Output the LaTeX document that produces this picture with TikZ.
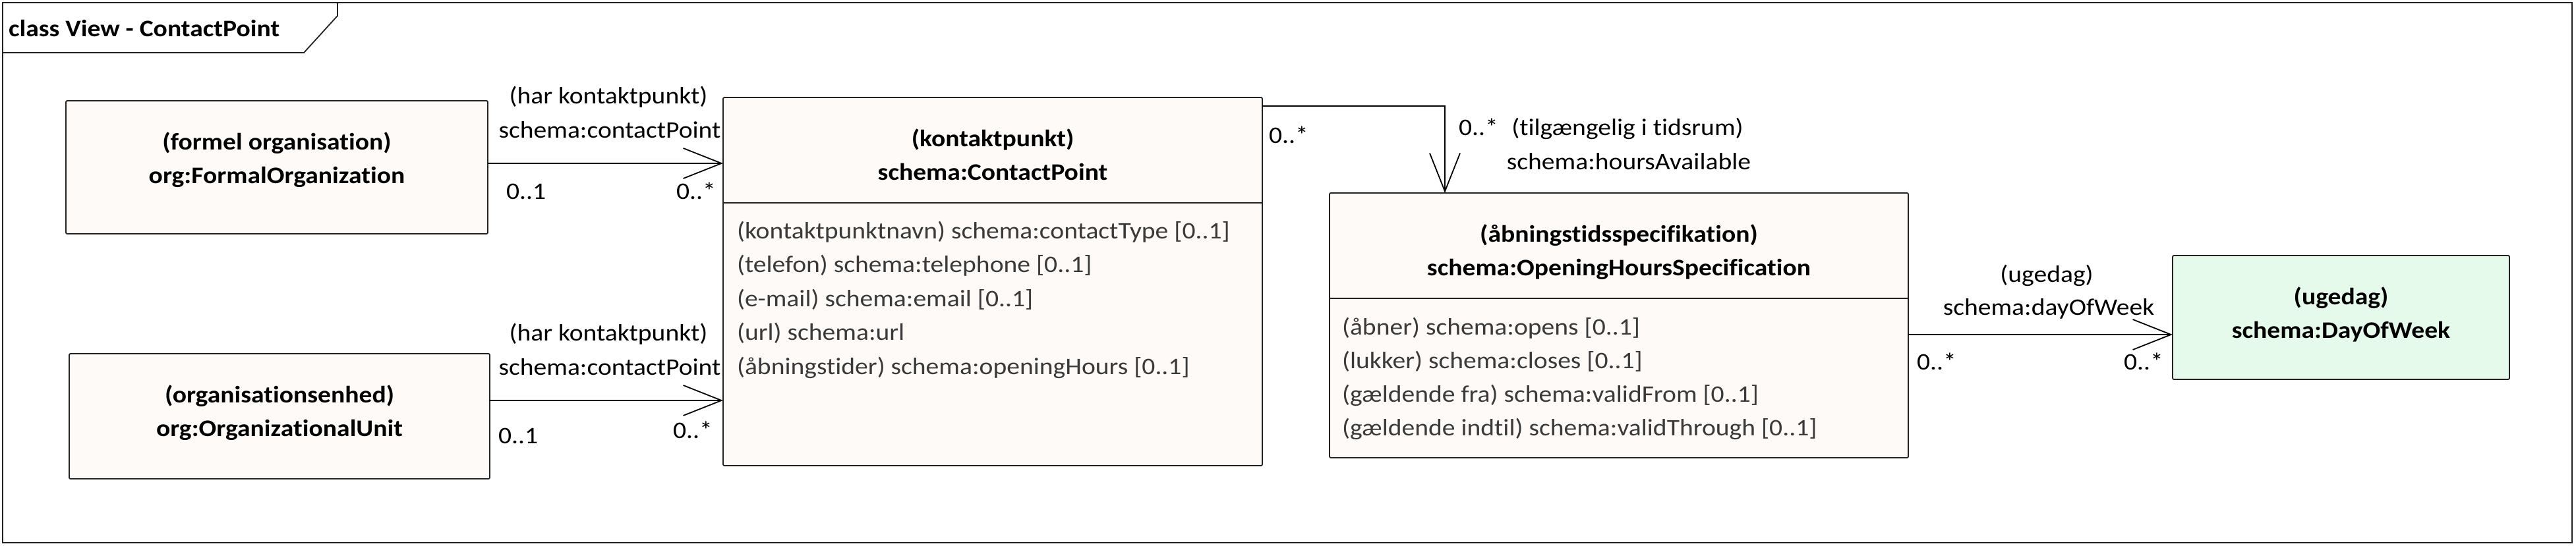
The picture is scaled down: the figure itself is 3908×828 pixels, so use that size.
\documentclass[tikz,border=0pt]{standalone}
\usepackage{fontspec}
\setmainfont{Carlito}[FakeStretch=1.1,Ligatures={NoCommon}]
\usetikzlibrary{arrows.meta}
\definecolor{boxfill}{HTML}{FDFAF8}
\definecolor{greenfill}{HTML}{E6FAEB}
\definecolor{attrgrey}{HTML}{3A3A3A}
\definecolor{edgecol}{HTML}{222222}
\begin{document}
\begin{tikzpicture}[x=1bp,y=-1bp,line width=1.8bp,
  every node/.style={font=\fontsize{36bp}{44bp}\selectfont,inner sep=0pt,outer sep=0pt},
  cls/.style={draw=edgecol,fill=boxfill,rectangle,rounded corners=2bp,anchor=north west},
  nm/.style={font=\fontsize{36bp}{44bp}\selectfont\bfseries,anchor=base},
  attr/.style={text=attrgrey,anchor=base west},
  lbl/.style={fill=white,anchor=base,inner xsep=3bp,inner ysep=3bp},
  mult/.style={anchor=base west},
  assoc/.style={draw=black,-{Straight Barb[length=58bp,width=46bp]}},
]
\useasboundingbox (0,0) rectangle (3908,828);
% frame
\draw[edgecol] (4,4) rectangle (3902,824);
\draw[edgecol] (4,80) -- (461,80) -- (512,24) -- (512,4);
\node[anchor=base west,font=\fontsize{36bp}{44bp}\selectfont\bfseries] (title) at (13,55) {class View - ContactPoint};

% classes
\node[cls,minimum width=640bp,minimum height=202bp] (A) at (100,153) {};
\node[nm] (A1) at (420,227) {(formel organisation)};
\node[nm] (A2) at (420,278) {org:FormalOrganization};

\node[cls,minimum width=638bp,minimum height=190bp] (C) at (105,537) {};
\node[nm] (C1) at (424,611) {(organisationsenhed)};
\node[nm] (C2) at (424,662) {org:OrganizationalUnit};

\node[cls,minimum width=818bp,minimum height=559bp] (B) at (1097,148) {};
\draw[edgecol] (B.north west) ++(0,160) -- ++(818,0);
\node[nm] (B1) at (1506,222) {(kontaktpunkt)};
\node[nm] (B2) at (1506,273) {schema:ContactPoint};
\node[attr] (Ba1) at (1118,362) {(kontaktpunktnavn) schema:contactType [0..1]};
\node[attr] (Ba2) at (1118,413.5) {(telefon) schema:telephone [0..1]};
\node[attr] (Ba3) at (1118,465) {(e-mail) schema:email [0..1]};
\node[attr] (Ba4) at (1118,516.5) {(url) schema:url};
\node[attr] (Ba5) at (1118,568) {(åbningstider) schema:openingHours [0..1]};

\node[cls,minimum width=878bp,minimum height=402bp] (D) at (2017,293) {};
\draw[edgecol] (D.north west) ++(0,160) -- ++(878,0);
\node[nm] (D1) at (2456,367) {(åbningstidsspecifikation)};
\node[nm] (D2) at (2456,418) {schema:OpeningHoursSpecification};
\node[attr] (Da1) at (2036,508) {(åbner) schema:opens [0..1]};
\node[attr] (Da2) at (2036,559) {(lukker) schema:closes [0..1]};
\node[attr] (Da3) at (2036,610) {(gældende fra) schema:validFrom [0..1]};
\node[attr] (Da4) at (2036,661) {(gældende indtil) schema:validThrough [0..1]};

\node[cls,fill=greenfill,minimum width=511bp,minimum height=188bp] (E) at (3296,388) {};
\node[nm] (E1) at (3551.5,462) {(ugedag)};
\node[nm] (E2) at (3551.5,513) {schema:DayOfWeek};

% connectors
\coordinate (a1) at ([yshift=6bp]A.east);
\draw[assoc] (a1) -- (B.west |- a1);
\coordinate (c1) at ([yshift=24bp]C.east);
\draw[assoc] (c1) -- (B.west |- c1);
\coordinate (b1) at ([yshift=-13bp]B.north east);
\coordinate (d1) at ([xshift=175bp]D.north west);
\draw[assoc] (b1) -| (d1);
\coordinate (d2) at ([yshift=-14bp]D.east);
\draw[assoc] (d2) -- (E.west |- d2);

% labels A->B
\node[lbl] (l1) at (923,157) {(har kontaktpunkt)};
\node[lbl] (l2) at (925,209) {schema:contactPoint};
\node[mult] (m1) at (768,302) {0..1};
\node[mult] (m2) at (1026,302) {0..*};
% labels C->B
\node[lbl] (l3) at (923,517) {(har kontaktpunkt)};
\node[lbl] (l4) at (925,569) {schema:contactPoint};
\node[mult] (m3) at (756,673) {0..1};
\node[mult] (m4) at (1021,665) {0..*};
% labels B->D
\node[mult] (m5) at (1925,217) {0..*};
\node[mult] (m6) at (2213,205) {0..*};
\node[lbl,fill=none] (l5) at (2469,205) {(tilgængelig i tidsrum)};
\node[lbl,fill=none] (l6) at (2471,257) {schema:hoursAvailable};
% labels D->E
\node[lbl,fill=none] (l7) at (3105,428) {(ugedag)};
\node[lbl,fill=none] (l8) at (3108,478) {schema:dayOfWeek};
\node[mult] (m7) at (2908,561) {0..*};
\node[mult] (m8) at (3222,561) {0..*};
\end{tikzpicture}
\end{document}
